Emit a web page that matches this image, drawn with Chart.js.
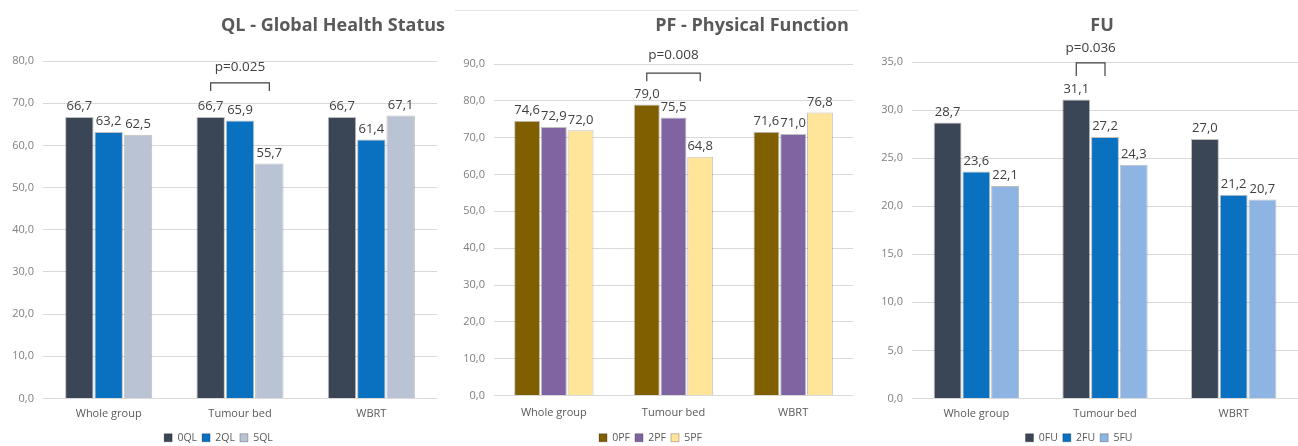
<!DOCTYPE html>
<html>
<head>
<meta charset="utf-8">
<script src="https://cdn.jsdelivr.net/npm/chart.js@4.4.1/dist/chart.umd.min.js"></script>
<style>
  html, body { margin: 0; background: #fff; overflow: hidden; height: 446px; }
  .panel { position: absolute; top: 0; height: 453px; }
  #p1 { left: 0; width: 445px; }
  #p2 { left: 448px; width: 410px; }
  #p2:before { content: ''; position: absolute; left: 7px; right: 0; top: 10px; border-top: 1px solid #e4e4e4; }
  #p3 { left: 860px; width: 438px; }
</style>
</head>
<body>
<div class="panel" id="p1"><canvas id="c1"></canvas></div>
<div class="panel" id="p2"><canvas id="c2"></canvas></div>
<div class="panel" id="p3"><canvas id="c3"></canvas></div>
<script>
// categories shared by the three charts
const categories = ['Whole group', 'Tumour bed', 'WBRT'];

// QL - Global Health Status
const qlLabels = ['0QL', '2QL', '5QL'];
const ql0 = [66.7, 66.7, 66.7];
const ql2 = [63.2, 65.9, 61.4];
const ql5 = [62.5, 55.7, 67.1];

// PF - Physical Function
const pfLabels = ['0PF', '2PF', '5PF'];
const pf0 = [74.6, 79.0, 71.6];
const pf2 = [72.9, 75.5, 71.0];
const pf5 = [72.0, 64.8, 76.8];

// FU
const fuLabels = ['0FU', '2FU', '5FU'];
const fu0 = [28.7, 31.1, 27.0];
const fu2 = [23.6, 27.2, 21.2];
const fu5 = [22.1, 24.3, 20.7];

Chart.defaults.font.family = "'Open Sans', sans-serif";
Chart.defaults.color = '#595959';

const fmt = v => v.toFixed(1).replace('.', ',');

// value labels, p-value bracket and title
const extras = {
    id: 'extras',
    afterDatasetsDraw(chart) {
        const ctx = chart.ctx;
        const o = chart.options.plugins.extras;
        ctx.save();
        ctx.fillStyle = '#404040';
        ctx.font = "13px 'Open Sans', sans-serif";
        ctx.textAlign = 'center';
        ctx.textBaseline = 'bottom';
        chart.data.datasets.forEach((ds, i) => {
            chart.getDatasetMeta(i).data.forEach((bar, j) => {
                ctx.fillText(fmt(ds.data[j]), bar.x, bar.y - 4);
            });
        });

        // bracket
        const y = chart.scales.y.getPixelForValue(o.level);
        const x1 = chart.getDatasetMeta(o.from).data[1].x;
        const x2 = chart.getDatasetMeta(o.to).data[1].x;
        ctx.strokeStyle = '#404040';
        ctx.lineWidth = 1.2;
        ctx.beginPath();
        ctx.moveTo(x1, y + o.tick);
        ctx.lineTo(x1, y);
        ctx.lineTo(x2, y);
        ctx.lineTo(x2, y + o.tick);
        ctx.stroke();
        ctx.font = "13.5px 'Open Sans', sans-serif";
        ctx.textBaseline = 'middle';
        ctx.fillText(o.p, (x1 + x2) / 2, y - o.gap);

        // title
        ctx.fillStyle = '#595959';
        ctx.font = "bold 18px 'Open Sans', sans-serif";
        ctx.fillText(o.title, o.titleX, 26);
        ctx.restore();
    }
};

function makeChart(id, labels, series, colors, yMax, yStep, axisW, pad, extra) {
    return new Chart(document.getElementById(id), {
        type: 'bar',
        data: {
            labels: categories,
            datasets: series.map((d, i) => ({
                label: labels[i],
                data: d,
                backgroundColor: colors[i],
                borderColor: 'rgba(0,0,0,0.25)',
                borderWidth: 1,
                categoryPercentage: 0.67,
                barPercentage: 0.97
            }))
        },
        options: {
            responsive: true,
            maintainAspectRatio: false,
            animation: false,
            layout: { padding: { top: pad.top, right: pad.right, left: 0, bottom: 0 } },
            scales: {
                x: {
                    grid: { display: false },
                    border: { display: false },
                    ticks: { padding: pad.xPad, font: { size: 11 }, color: '#595959' },
                    afterFit: s => { s.height = pad.xH; }
                },
                y: {
                    min: 0,
                    max: yMax,
                    grid: { color: '#d9d9d9', drawTicks: false },
                    border: { display: false },
                    ticks: { stepSize: yStep, padding: 9, font: { size: 11 }, color: '#7f7f7f', callback: v => fmt(v) },
                    afterFit: s => { s.width = axisW; }
                }
            },
            plugins: {
                legend: {
                    position: 'bottom',
                    labels: { boxWidth: 8, boxHeight: 8, padding: 5, font: { size: 10.5 }, color: '#595959' }
                },
                tooltip: { enabled: false },
                extras: extra
            }
        },
        plugins: [extras]
    });
}

makeChart('c1', qlLabels, [ql0, ql2, ql5], ['#3a4556', '#0a70c0', '#b9c3d3'], 80, 10, 43,
    { top: 61, right: 8, xPad: 1, xH: 29 },
    { title: 'QL - Global Health Status', titleX: 333, p: 'p=0.025', level: 74.8, tick: 8, gap: 16, from: 0, to: 2 });

makeChart('c2', pfLabels, [pf0, pf2, pf5], ['#7f5f00', '#8064a2', '#ffe599'], 90, 10, 46,
    { top: 64, right: 5, xPad: 3, xH: 32 },
    { title: 'PF - Physical Function', titleX: 304, p: 'p=0.008', level: 87.5, tick: 8, gap: 18, from: 0, to: 2 });

makeChart('c3', fuLabels, [fu0, fu2, fu5], ['#3a4556', '#0a70c0', '#8eb4e3'], 35, 5, 52,
    { top: 62, right: 0, xPad: 1, xH: 29 },
    { title: 'FU', titleX: 242, p: 'p=0.036', level: 34.9, tick: 13, gap: 15, from: 0, to: 1 });
</script>
</body>
</html>
